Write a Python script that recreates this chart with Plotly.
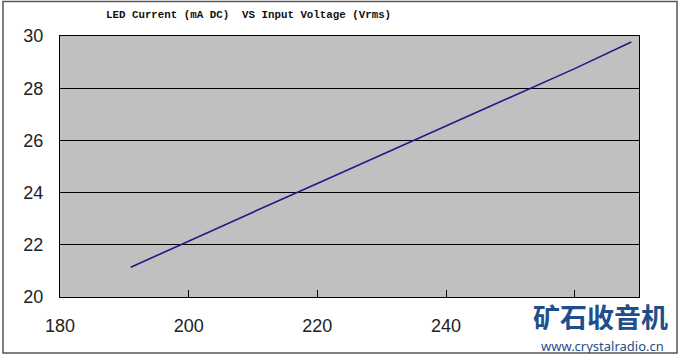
import plotly.graph_objects as go

# Data
voltage_vrms = [191, 200, 210, 220, 230, 240, 250, 260, 268.8]
current_ma = [21.14, 22.15, 23.25, 24.35, 25.45, 26.55, 27.65, 28.75, 29.77]

x_ticks = [180, 200, 220, 240, 260]
x_tick_labels = ["180", "200", "220", "240", ""]  # 260 label hidden under watermark in reference
y_ticks = [20, 22, 24, 26, 28, 30]
y_tick_labels = ["20", "22", "24", "26", "28", "30"]

title_text = "LED Current (mA DC)  VS Input Voltage (Vrms)"
watermark_cn = "矿石收音机"
watermark_url = "www.crystalradio.cn"

W, H = 680, 356
# plot area in pixels: left 60, right 639, top 36, bottom 297
L, R, T, B = 60, W - 639, 36, H - 297
pw = W - L - R
ph = H - T - B

def px_to_paper_x(px):
    return (px - L) / pw

def px_to_paper_y(py):
    return (H - B - py) / ph

fig = go.Figure()
fig.add_trace(go.Scatter(
    x=voltage_vrms, y=current_ma, mode="lines",
    line=dict(color="#1c1c86", width=1.6),
    showlegend=False, hoverinfo="skip"))

tick_font = dict(family="Liberation Sans, Arial, sans-serif", size=18, color="#222222")

fig.update_layout(
    width=W, height=H,
    margin=dict(l=L, r=R, t=T, b=B),
    paper_bgcolor="white",
    plot_bgcolor="#c0c0c0",
    showlegend=False,
    xaxis=dict(range=[180, 270], tickvals=x_ticks, ticktext=x_tick_labels,
               showgrid=False, zeroline=False,
               showline=True, mirror=True, linecolor="#000000", linewidth=1,
               ticks="inside", ticklen=7, tickcolor="#000000", tickwidth=1,
               ticklabelstandoff=12, tickfont=tick_font),
    yaxis=dict(range=[20, 30], tickvals=y_ticks, ticktext=y_tick_labels,
               showgrid=True, gridcolor="#000000", gridwidth=1, zeroline=False,
               showline=True, mirror=True, linecolor="#000000", linewidth=1,
               ticks="", ticklabelstandoff=12, tickfont=tick_font),
)

# Title
fig.add_annotation(
    text="<b>" + title_text + "</b>", xref="paper", yref="paper",
    x=px_to_paper_x(248), y=px_to_paper_y(15),
    xanchor="center", yanchor="middle", showarrow=False,
    font=dict(family="Liberation Mono, monospace", size=10.8, color="#111111"))

# Outer border
fig.add_shape(type="rect", xref="paper", yref="paper",
              x0=px_to_paper_x(3), x1=px_to_paper_x(677),
              y0=px_to_paper_y(353), y1=px_to_paper_y(1.5),
              line=dict(color="#555555", width=1.5), fillcolor="rgba(0,0,0,0)",
              layer="above")

# Watermark
fig.add_annotation(
    text="<b>" + watermark_cn + "</b>", xref="paper", yref="paper",
    x=px_to_paper_x(600), y=px_to_paper_y(316),
    xanchor="center", yanchor="middle", showarrow=False,
    height=28, borderpad=0,
    font=dict(family="Noto Sans CJK SC", size=27, color="#1f4e8c"))
fig.add_annotation(
    text=watermark_url, xref="paper", yref="paper",
    x=px_to_paper_x(602), y=px_to_paper_y(345),
    xanchor="center", yanchor="middle", showarrow=False,
    height=15, borderpad=0,
    font=dict(family="Noto Sans, sans-serif", size=13, color="#1f4e8c"))

fig.write_html("out.html",
               config={"displayModeBar": False},
               post_script="document.body.style.margin='0';document.body.style.overflow='hidden';")
